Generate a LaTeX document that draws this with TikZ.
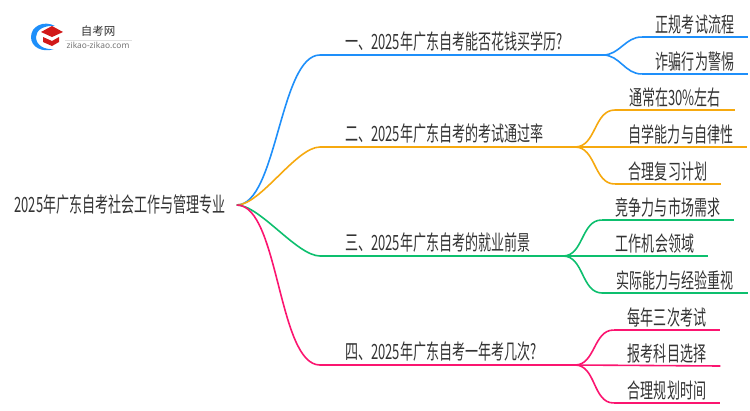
\documentclass[tikz,border=0pt]{standalone}
\usepackage{fontspec}
\usepackage{xcolor}
\usetikzlibrary{positioning}
\setmainfont{Noto Sans CJK SC}[FakeStretch=0.62]
\newfontfamily\logofont{Noto Sans CJK SC}
\newfontfamily\urlfont{Noto Sans}
\definecolor{mapblue}{HTML}{1E8FFA}
\definecolor{maporange}{HTML}{F6A90F}
\definecolor{mapgreen}{HTML}{0DBF6E}
\definecolor{mappink}{HTML}{FB1570}

\begin{document}
\begin{tikzpicture}[x=1pt, y=-1pt, font=\fontsize{21pt}{23pt}\selectfont, text=black!80,
    leaf/.style={inner ysep=3pt, inner xsep=14pt, anchor=south},
    branch/.style={inner ysep=3pt, inner xsep=25pt, anchor=south west},
    trunk/.style={out=0, in=180, looseness=0.6, line width=1.6pt},
    twig/.style={out=0, in=180, line width=1.6pt},
    flat/.style={line width=1.6pt}]

    \useasboundingbox (0,0) rectangle (750,410);

    % logo
    \fill[mapblue] (55,26) .. controls (44,20) and (31,26) .. (31,37) .. controls (31,47) and (42,53) .. (54,49) .. controls (44,50) and (36,45) .. (36,37) .. controls (36,30) and (44,25) .. (55,26) -- cycle;
    \fill[red!80!black!90!white] (41,32) -- (52,26) -- (63,32) -- (52,37) -- cycle;
    \fill[red!80!black!90!white] (43,37) -- (52,41) -- (59,37) -- (59,42) -- (52,46) -- (43,42) -- cycle;
    \node[inner sep=0pt, font=\logofont\fontsize{11.5pt}{12pt}\selectfont] (logotext) at (98,31) {自考网};
    \node[inner sep=0pt, text=black!55, font=\urlfont\fontsize{8.4pt}{9pt}\selectfont] (logourl) at (98,45) {zikao-zikao.com};
    \draw[black!12, line width=0.6pt] (logourl.north west) ++(-1,-1) -- ++(67,0);

    % root
    \node[inner xsep=11pt, inner ysep=0pt] (root) at (120,205) {2025年广东自考社会工作与管理专业};

    % branches
    \node[branch] (b1) at (320,55) {一、2025年广东自考能否花钱买学历?};
    \node[branch] (b2) at (320,147) {二、2025年广东自考的考试通过率};
    \node[branch] (b3) at (320,256) {三、2025年广东自考的就业前景};
    \node[branch] (b4) at (320,365) {四、2025年广东自考一年考几次?};
    \coordinate (f1) at (603,55);
    \coordinate (f2) at (575,147);
    \coordinate (f3) at (563,256);
    \coordinate (f4) at (575,365);

    % leaves
    \node[leaf] (l11) at (695,37) {正规考试流程};
    \node[leaf] (l12) at (695,74) {诈骗行为警惕};
    \node[leaf] (l21) at (675,110) {通常在30\%左右};
    \node[leaf] (l22) at (681,147) {自学能力与自律性};
    \node[leaf] (l23) at (668,184) {合理复习计划};
    \node[leaf] (l31) at (668,220) {竞争力与市场需求};
    \node[leaf] (l32) at (655,256) {工作机会领域};
    \node[leaf] (l33) at (675,293) {实际能力与经验重视};
    \node[leaf] (l41) at (667,330) {每年三次考试};
    \node[leaf] (l42) at (667,366) {报考科目选择};
    \node[leaf] (l43) at (667,403) {合理规划时间};

    \path[mapblue, draw]
    (root.east) edge[trunk] (b1.south west)
    (b1.south west) edge[flat] (f1)
    (f1) edge[twig] (l11.south west)
    (f1) edge[twig] (l12.south west)
    (l11.south west) edge[flat] (l11.south east)
    (l12.south west) edge[flat] (l12.south east);

    \path[maporange, draw]
    (root.east) edge[trunk] (b2.south west)
    (b2.south west) edge[flat] (f2)
    (f2) edge[twig] (l21.south west)
    (f2) edge[flat] (l22.south east)
    (f2) edge[twig] (l23.south west)
    (l21.south west) edge[flat] (l21.south east)
    (l23.south west) edge[flat] (l23.south east);

    \path[mapgreen, draw]
    (root.east) edge[trunk] (b3.south west)
    (b3.south west) edge[flat] (f3)
    (f3) edge[twig] (l31.south west)
    (f3) edge[flat] (l32.south east)
    (f3) edge[twig] (l33.south west)
    (l31.south west) edge[flat] (l31.south east)
    (l33.south west) edge[flat] (l33.south east);

    \path[mappink, draw]
    (root.east) edge[trunk] (b4.south west)
    (b4.south west) edge[flat] (f4)
    (f4) edge[twig] (l41.south west)
    (f4) edge[flat] (l42.south east)
    (f4) edge[twig] (l43.south west)
    (l41.south west) edge[flat] (l41.south east)
    (l43.south west) edge[flat] (l43.south east);

\end{tikzpicture}
\end{document}
